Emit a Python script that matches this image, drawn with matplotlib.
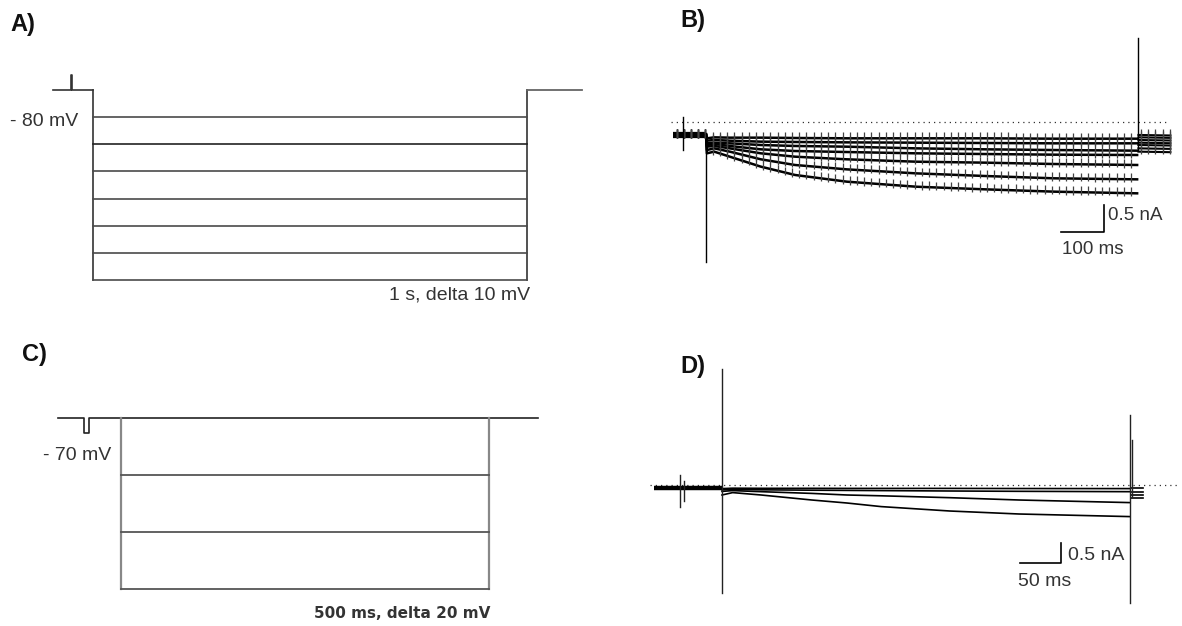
import numpy as np
import matplotlib
matplotlib.use("Agg")
import matplotlib.pyplot as plt

# ---------------- data ----------------
# Panel A: voltage protocol (mV, ms)
A_holding = -80
A_steps = [-90, -100, -110, -120, -130, -140, -150]
A_times = [-92, 0, 1000, 127]          # start, step on, step off, end (post duration)
A_pulse = [-51, 5.5]                    # test pulse time (ms), amplitude (mV)

# Panel C: voltage protocol
C_holding = -70
C_steps = [-70, -90, -110, -130]
C_times = [-86, 0, 500, 67]
C_pulse = [-50, -43, -5.3]             # notch start, end (ms), amplitude (mV)

# Panel B: current traces (nA) during 1 s steps
B_t = [2, 19, 55, 127, 206, 326, 486, 646, 806, 998]
B_traces = [
    [-0.302, -0.284, -0.290, -0.290, -0.296, -0.302, -0.302, -0.302, -0.309, -0.309],
    [-0.346, -0.333, -0.346, -0.364, -0.370, -0.377, -0.383, -0.389, -0.395, -0.395],
    [-0.395, -0.383, -0.395, -0.426, -0.444, -0.457, -0.488, -0.506, -0.519, -0.531],
    [-0.426, -0.407, -0.444, -0.506, -0.537, -0.556, -0.580, -0.593, -0.605, -0.611],
    [-0.457, -0.444, -0.488, -0.580, -0.642, -0.691, -0.735, -0.753, -0.778, -0.796],
    [-0.519, -0.488, -0.549, -0.691, -0.796, -0.877, -0.951, -1.000, -1.043, -1.062],
    [-0.580, -0.549, -0.642, -0.827, -0.981, -1.105, -1.198, -1.247, -1.290, -1.321],
]
B_baseline = -0.24
B_pre = [-76, 0]
B_tail_t = [1001, 1075]
B_tail = [-0.24, -0.284, -0.333, -0.383, -0.426, -0.488, -0.549]
B_spike_period = 16.7
B_transients = [[0, -0.2, -2.59], [1000, 1.56, -0.52], [-53, 0.09, -0.52]]
B_dotted = [-81, 1072]

# Panel D: current traces (nA) during 500 ms steps
D_t = [0, 13, 48, 110, 153, 195, 279, 364, 500]
D_traces = [
    [-0.09, -0.08, -0.083, -0.083, -0.085, -0.085, -0.085, -0.088, -0.09],
    [-0.12, -0.11, -0.12, -0.13, -0.135, -0.14, -0.15, -0.158, -0.167],
    [-0.16, -0.14, -0.167, -0.21, -0.25, -0.27, -0.317, -0.375, -0.44],
    [-0.25, -0.19, -0.25, -0.375, -0.45, -0.54, -0.65, -0.725, -0.79],
]
D_baseline = -0.083
D_pre = [-83, 0]
D_tail_t = [501, 516]
D_tail = [-0.08, -0.17, -0.25, -0.33]
D_transients = [[0, 2.9, -2.7], [500, 1.75, -2.95], [502, 1.12, -0.3],
                [-51, 0.25, -0.55], [-47, 0.1, -0.4]]
D_dotted = [-88, 561]

# scale bars: [t0, length ms, y0, height nA]
B_bar = [822, 100, -2.04, 0.5]
D_bar = [365, 50, -1.95, 0.5]

# ---------------- figure ----------------
W, H = 1182, 626
fig = plt.figure(figsize=(W / 100, H / 100), dpi=100)
FONT = ["Liberation Sans", "DejaVu Sans"]


def make_axes(xref, yref, xlim, ylim):
    (xa, pxa), (xb, pxb) = xref
    sx = (pxb - pxa) / (xb - xa)
    left = pxa + (xlim[0] - xa) * sx
    right = pxa + (xlim[1] - xa) * sx
    (ya, pya), (yb, pyb) = yref
    sy = (pyb - pya) / (yb - ya)
    top = pya + (ylim[1] - ya) * sy
    bottom = pya + (ylim[0] - ya) * sy
    ax = fig.add_axes([left / W, 1 - bottom / H, (right - left) / W, (bottom - top) / H])
    ax.set_xlim(xlim)
    ax.set_ylim(ylim)
    ax.axis("off")
    return ax


def ftext(x, y, s, **kw):
    fig.text(x / W, 1 - y / H, s, **kw)


# ---- Panel A ----
axA = make_axes(((0, 93), (1000, 527)), ((-80, 90), (-150, 280)), (-110, 1160), (-160, -60))
t0, on, off, post = A_times
pt, pa = A_pulse
col = "#4a4a4a"
axA.plot([t0, pt, pt, pt + 2, pt + 2, on], [A_holding, A_holding, A_holding + pa,
         A_holding + pa, A_holding, A_holding], color="#333", lw=1.2)
axA.plot([on, on], [A_holding, min(A_steps)], color="#333", lw=1.2)
axA.plot([off, off], [A_holding, min(A_steps)], color="#333", lw=1.2)
axA.plot([off, off + post], [A_holding, A_holding], color="#666", lw=1.3)
for v in A_steps:
    axA.plot([on, off], [v, v], color=col if v != -100 else "#222", lw=1.2)

# ---- Panel C ----
axC = make_axes(((0, 121), (500, 489)), ((-70, 418), (-130, 589)), (-110, 600), (-145, -55))
t0, on, off, post = C_times
ns, ne, na = C_pulse
axC.plot([t0, ns, ns, ne, ne, off + post], [C_holding, C_holding, C_holding + na,
         C_holding + na, C_holding, C_holding], color="#222", lw=1.2)
axC.plot([on, on], [C_holding, min(C_steps)], color="#888", lw=1.6)
axC.plot([off, off], [C_holding, min(C_steps)], color="#888", lw=1.6)
for v in C_steps[1:]:
    axC.plot([on, off], [v, v], color="#555", lw=1.3)

# ---- Panel B ----
axB = make_axes(((0, 706), (1000, 1138)), ((0, 122), (-1, 176)), (-120, 1110), (-3.0, 1.8))
axB.plot(B_dotted, [0, 0], color="#333", lw=0.9, ls=(0, (1, 3.2)))
axB.plot(B_pre, [B_baseline, B_baseline], color="black", lw=4.5, solid_capstyle="butt")
spk = np.arange(B_pre[0] + 8, B_t[-1], B_spike_period)
for i, tr in enumerate(B_traces):
    tt = [0] + B_t
    yy = [B_baseline] + tr
    axB.plot(tt, yy, color="black", lw=1.8)
    ys = np.interp(spk, [B_pre[0], 0] + B_t, [B_baseline, B_baseline] + tr)
    axB.vlines(spk, ys - 0.05, ys + 0.11, color="#444", lw=0.9)
    axB.plot(B_tail_t, [B_tail[i], B_tail[i] - 0.01], color="black", lw=1.5)
    spk2 = np.arange(B_tail_t[0] + 6, B_tail_t[1], B_spike_period)
    axB.vlines(spk2, B_tail[i] - 0.05, B_tail[i] + 0.11, color="#444", lw=0.9)
for t, y1, y2 in B_transients:
    axB.plot([t, t], [y1, y2], color="black", lw=1.0)
bt, bl, by, bh = B_bar
axB.plot([bt, bt + bl, bt + bl], [by, by, by + bh], color="black", lw=1.2)

# ---- Panel D ----
axD = make_axes(((0, 722), (500, 1130)), ((0, 485), (-1, 525)), (-100, 580), (-3.2, 3.2))
axD.plot(D_dotted, [0, 0], color="#333", lw=0.9, ls=(0, (1, 3.2)))
axD.plot(D_pre, [D_baseline, D_baseline], color="black", lw=3.2, solid_capstyle="butt")
for i, tr in enumerate(D_traces):
    axD.plot(D_t, tr, color="black", lw=1.2)
    axD.plot(D_tail_t, [D_tail[i], D_tail[i]], color="black", lw=1.2)
for t, y1, y2 in D_transients:
    axD.plot([t, t], [y1, y2], color="#222", lw=1.0)
bt, bl, by, bh = D_bar
axD.plot([bt, bt + bl, bt + bl], [by, by, by + bh], color="black", lw=1.2)

# ---- text ----
lab = dict(fontsize=17, fontweight="bold", family=FONT, va="center", ha="left", color="#111")
ftext(10, 25, "A)", **lab)
ftext(680, 20, "B)", **lab)
ftext(22, 354, "C)", **lab)
ftext(680, 367, "D)", **lab)

reg = dict(family=FONT, color="#333", va="center")
ftext(10, 121, "- 80 mV", fontsize=14, ha="left", **reg)
ftext(530, 295, "1 s, delta 10 mV", fontsize=14, ha="right", **reg)
ftext(43, 455, "- 70 mV", fontsize=14, ha="left", **reg)
ftext(490, 613, "500 ms, delta 20 mV", fontsize=11, ha="right", fontweight="bold",
      family=["DejaVu Sans"], color="#333", va="center")

ftext(1108, 216, "0.5 nA", fontsize=13.5, ha="left", **reg)
ftext(1062, 250, "100 ms", fontsize=13.5, ha="left", **reg)
ftext(1068, 556, "0.5 nA", fontsize=14, ha="left", **reg)
ftext(1018, 582, "50 ms", fontsize=14, ha="left", **reg)

fig.savefig("out.png", dpi=100)
